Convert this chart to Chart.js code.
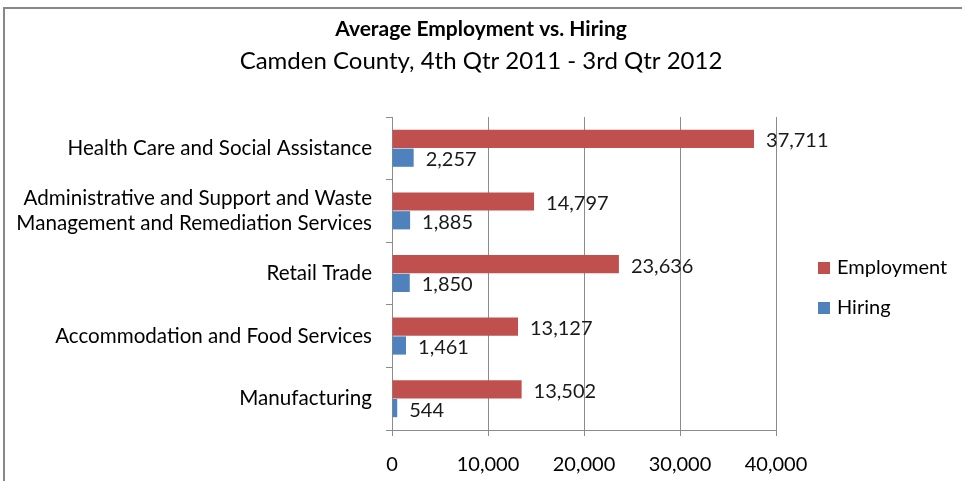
<!DOCTYPE html>
<html>
<head>
<meta charset="utf-8">
<script src="https://cdn.jsdelivr.net/npm/chart.js@4"></script>
<style>
  html, body { margin: 0; padding: 0; background: #fff; }
  #wrap { position: relative; width: 962px; height: 481px; }
  #frame {
    position: absolute; left: 3px; top: 7px; width: 959px; height: 474px;
    border-top: 2px solid #878787; border-left: 2px solid #878787;
    box-sizing: border-box; pointer-events: none;
  }
</style>
</head>
<body>
<div id="wrap">
  <canvas id="bar-chart"></canvas>
  <div id="frame"></div>
</div>
<script>
(function () {
    "use strict";
    var industries = [
        "Health Care and Social Assistance",
        ["Administrative and Support and Waste", "Management and Remediation Services"],
        "Retail Trade",
        "Accommodation and Food Services",
        "Manufacturing"
    ];
    var employment = [37711, 14797, 23636, 13127, 13502];
    var hiring = [2257, 1885, 1850, 1461, 544];
    var xTicks = [0, 10000, 20000, 30000, 40000];

    var fontFamily = "Lato, Carlito, Calibri, sans-serif";
    var colors = ["#C0504D", "#4F81BD"];

    // numbers next to each bar end
    var barValues = {
        id: "barValues",
        afterDatasetsDraw: function (chart) {
            var ctx = chart.ctx;
            ctx.save();
            ctx.font = "20px " + fontFamily;
            ctx.fillStyle = "#1a1a1a";
            ctx.textAlign = "left";
            ctx.textBaseline = "middle";
            chart.data.datasets.forEach(function (ds, i) {
                chart.getDatasetMeta(i).data.forEach(function (bar, j) {
                    ctx.fillText(ds.data[j].toLocaleString("en-US"), bar.x + 12, bar.y + 2);
                });
            });
            ctx.restore();
        }
    };

    // legend off to the right, like the spreadsheet one
    var sideLegend = {
        id: "sideLegend",
        afterDraw: function (chart) {
            var ctx = chart.ctx;
            var area = chart.chartArea;
            var x = area.right + 42;
            ctx.save();
            ctx.font = "20px " + fontFamily;
            ctx.textAlign = "left";
            ctx.textBaseline = "middle";
            chart.data.datasets.forEach(function (ds, i) {
                var y = area.top + 151 + i * 40;
                ctx.fillStyle = colors[i];
                ctx.fillRect(x, y - 6, 12, 12);
                ctx.fillStyle = "#000";
                ctx.fillText(ds.label, x + 19, y);
            });
            ctx.restore();
        }
    };

    var ctx = document.getElementById("bar-chart").getContext("2d");
    new Chart(ctx, {
        type: "bar",
        data: {
            labels: industries,
            datasets: [{
                label: "Employment",
                data: employment,
                backgroundColor: colors[0],
                borderWidth: 0
            }, {
                label: "Hiring",
                data: hiring,
                backgroundColor: colors[1],
                borderWidth: 0
            }]
        },
        options: {
            indexAxis: "y",
            responsive: true,
            maintainAspectRatio: false,
            animation: false,
            datasets: {
                bar: { categoryPercentage: 0.6, barPercentage: 0.97 }
            },
            layout: { padding: 0 },
            plugins: {
                title: {
                    display: true,
                    text: "Average Employment vs. Hiring",
                    color: "#000",
                    font: { family: fontFamily, size: 21, weight: "bold" },
                    padding: { top: 17, bottom: 2 }
                },
                subtitle: {
                    display: true,
                    text: "Camden County, 4th Qtr 2011 - 3rd Qtr 2012",
                    color: "#000",
                    font: { family: fontFamily, size: 24 },
                    padding: { top: 3, bottom: 41 }
                },
                legend: { display: false },
                tooltip: { enabled: false }
            },
            scales: {
                x: {
                    min: 0,
                    max: 40000,
                    afterBuildTicks: function (scale) {
                        scale.ticks = xTicks.map(function (v) { return { value: v }; });
                    },
                    afterFit: function (scale) {
                        scale.height = 51;
                    },
                    grid: {
                        color: "#8c8c8c",
                        tickLength: 6
                    },
                    border: { color: "#8c8c8c" },
                    ticks: {
                        color: "#000",
                        padding: 17,
                        font: { family: fontFamily, size: 20 },
                        maxRotation: 0
                    }
                },
                y: {
                    afterFit: function (scale) {
                        scale.width = 392;
                    },
                    grid: {
                        offset: true,
                        drawOnChartArea: false,
                        color: "#8c8c8c",
                        tickLength: 6
                    },
                    border: { color: "#8c8c8c" },
                    ticks: {
                        color: "#000",
                        padding: 14,
                        font: { family: fontFamily, size: 20.6, lineHeight: 1.2 }
                    }
                },
                // empty strip on the right that leaves room for the legend
                legendSpace: {
                    type: "category",
                    axis: "y",
                    position: "right",
                    labels: [""],
                    grid: { display: false },
                    border: { display: false },
                    ticks: { display: false },
                    afterFit: function (scale) {
                        scale.width = 186;
                    }
                }
            }
        },
        plugins: [barValues, sideLegend]
    });
})();
</script>
</body>
</html>
